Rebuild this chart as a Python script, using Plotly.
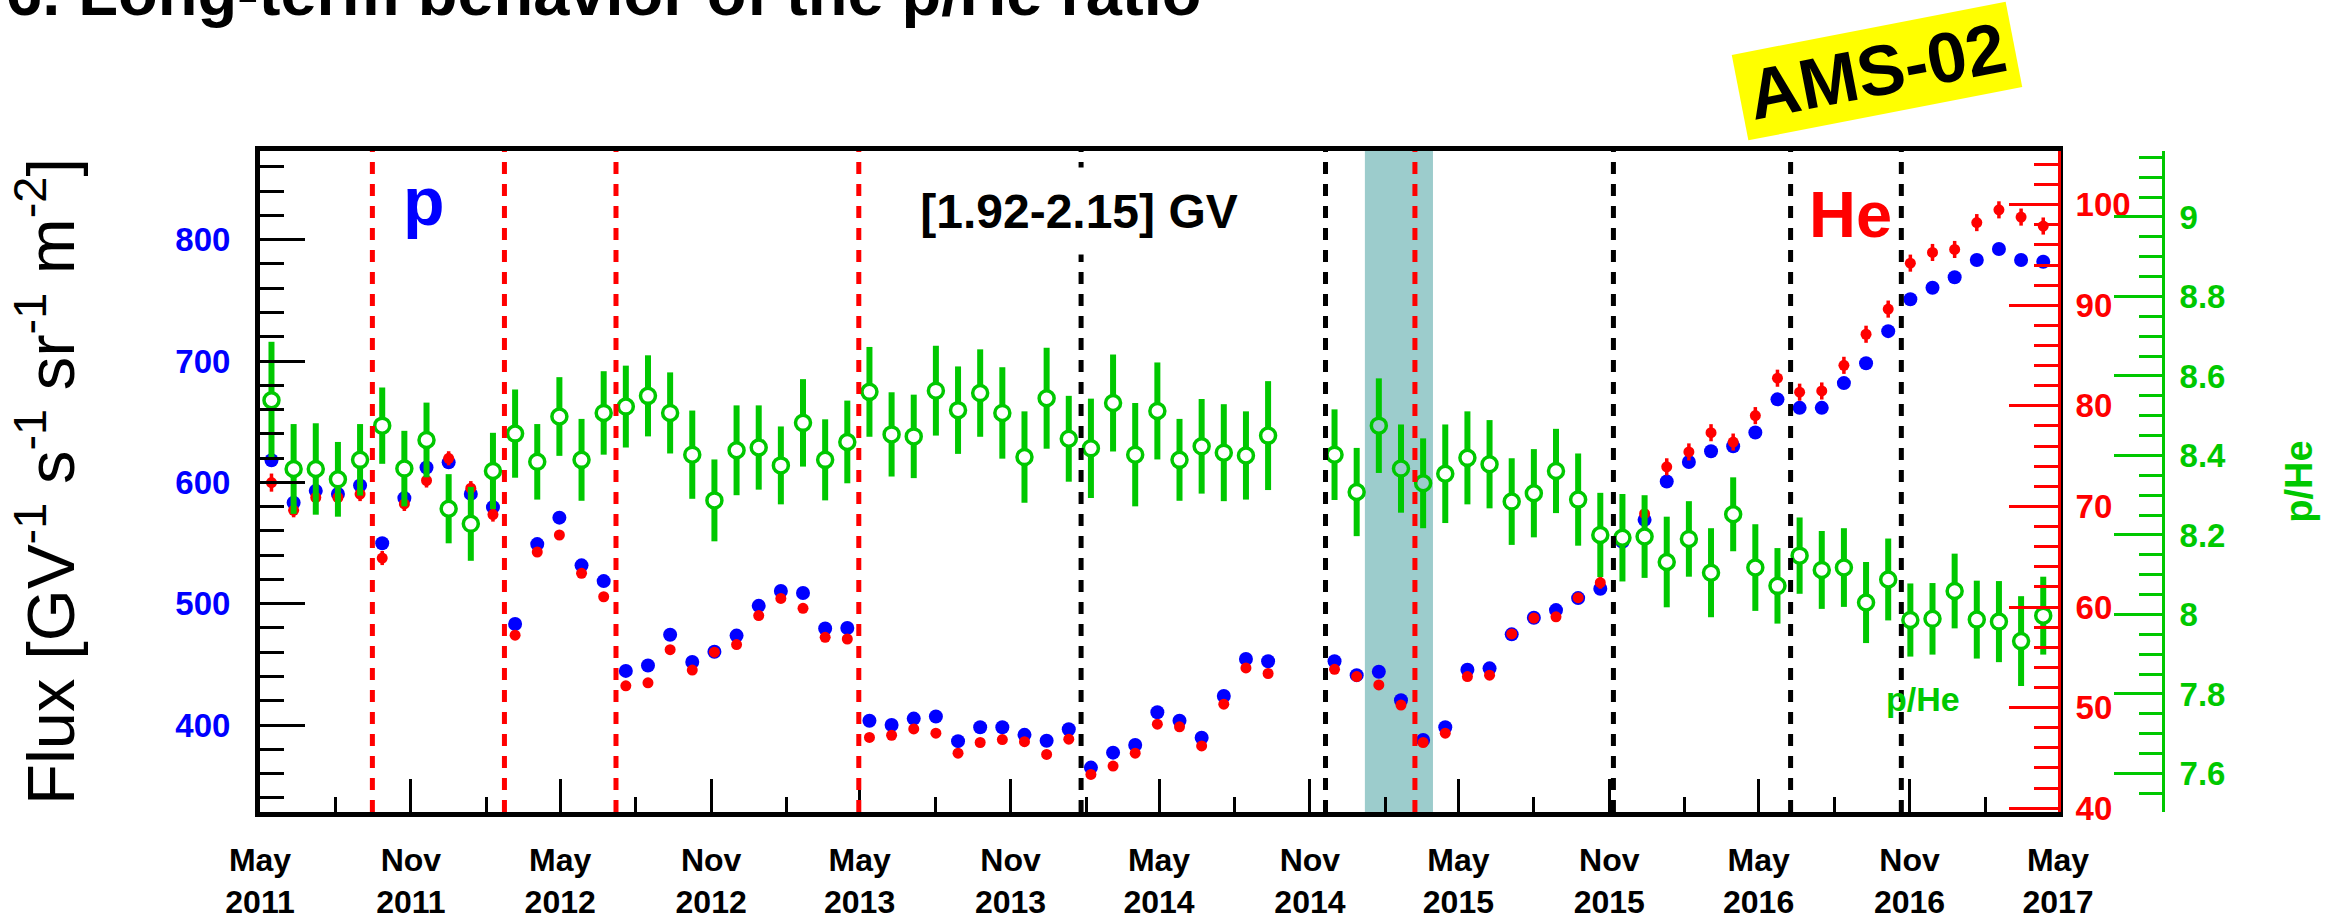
import datetime as dt
import plotly.graph_objects as go

# ---------------------------------------------------------------- data ----
# Bartels rotations (27-day periods); rotations 2472-2473 are not in the set
bartels = list(range(2426, 2472)) + list(range(2474, 2507))
BR0 = 2426
BR0_START = dt.date(2011, 5, 15)

# proton flux [GV^-1 s^-1 sr^-1 m^-2], 1.92-2.15 GV
p_flux = [618.2, 583.2, 593.0, 590.5, 597.5, 549.8, 587.0, 612.3, 616.5, 590.5,
          579.6, 483.2, 549.1, 570.9, 531.6, 518.6, 444.6, 449.1, 474.4, 451.9,
          460.4, 473.7, 498.2, 510.5, 508.8, 479.6, 480.0, 403.5, 400.0, 405.3,
          407.0, 386.7, 398.2, 398.2, 391.9, 387.0, 396.5, 364.9, 377.2, 383.5,
          410.5, 403.5, 389.5, 423.9, 454.4, 452.6, 452.6, 441.1, 443.9, 420.4,
          387.7, 398.2, 445.6, 446.7, 474.7, 488.4, 494.7, 504.6, 512.3, 550.9,
          569.1, 600.7, 616.8, 625.6, 629.8, 641.1, 668.4, 661.4, 661.4, 681.8,
          698.2, 724.6, 750.9, 760.4, 769.1, 783.2, 792.3, 783.2, 781.8]

# helium flux (right red scale)
he_flux = [72.37, 69.62, 70.89, 70.89, 71.23, 64.87, 70.25, 72.58, 74.79, 71.82,
           69.19, 57.20, 65.47, 67.16, 63.35, 61.02, 52.16, 52.46, 55.76, 53.73,
           55.51, 56.27, 59.15, 60.85, 59.87, 56.99, 56.82, 47.03, 47.25, 47.88,
           47.46, 45.47, 46.53, 46.82, 46.61, 45.34, 46.86, 43.35, 44.19, 45.47,
           48.35, 48.09, 46.19, 50.34, 53.94, 53.39, 53.81, 53.09, 52.25, 50.25,
           46.53, 47.46, 53.09, 53.22, 57.33, 58.90, 59.03, 60.93, 62.42, 66.86,
           69.28, 73.94, 75.42, 77.33, 76.40, 79.03, 82.75, 81.36, 81.48, 84.03,
           87.12, 89.62, 94.19, 95.25, 95.55, 98.22, 99.49, 98.77, 97.88]
he_err = [0.90, 0.70, 0.70, 0.70, 0.70, 0.70, 0.70, 0.70, 0.70, 0.70,
          0.70, 0.45, 0.45, 0.45, 0.45, 0.45, 0.45, 0.45, 0.45, 0.45,
          0.45, 0.45, 0.45, 0.45, 0.45, 0.45, 0.45, 0.45, 0.45, 0.45,
          0.45, 0.45, 0.45, 0.45, 0.45, 0.45, 0.45, 0.45, 0.45, 0.45,
          0.45, 0.45, 0.45, 0.45, 0.45, 0.45, 0.45, 0.45, 0.45, 0.45,
          0.45, 0.45, 0.45, 0.45, 0.45, 0.45, 0.45, 0.45, 0.60, 0.60,
          0.60, 0.85, 0.85, 0.85, 0.85, 0.85, 0.85, 0.85, 0.85, 0.85,
          0.85, 0.85, 0.85, 0.85, 0.85, 0.85, 0.85, 0.85, 0.85]

# p/He flux ratio (outer green scale)
ratio = [8.539, 8.366, 8.366, 8.340, 8.389, 8.475, 8.367, 8.439, 8.266, 8.228,
         8.361, 8.455, 8.384, 8.498, 8.389, 8.507, 8.523, 8.550, 8.507, 8.402,
         8.287, 8.413, 8.420, 8.375, 8.482, 8.389, 8.434, 8.560, 8.453, 8.448,
         8.563, 8.514, 8.557, 8.507, 8.396, 8.544, 8.442, 8.418, 8.532, 8.402,
         8.512, 8.389, 8.423, 8.407, 8.400, 8.450, 8.402, 8.308, 8.475, 8.367,
         8.330, 8.354, 8.394, 8.378, 8.284, 8.305, 8.361, 8.289, 8.200, 8.193,
         8.196, 8.132, 8.190, 8.105, 8.252, 8.118, 8.072, 8.148, 8.112, 8.118,
         8.030, 8.088, 7.986, 7.989, 8.059, 7.987, 7.982, 7.933, 7.997]
ratio_err = [0.147, 0.113, 0.115, 0.094, 0.090, 0.096, 0.095, 0.094, 0.087, 0.093,
             0.096, 0.111, 0.095, 0.099, 0.103, 0.105, 0.103, 0.102, 0.102, 0.111,
             0.103, 0.113, 0.106, 0.098, 0.110, 0.102, 0.104, 0.113, 0.106, 0.105,
             0.113, 0.110, 0.110, 0.115, 0.115, 0.127, 0.108, 0.125, 0.122, 0.130,
             0.122, 0.103, 0.119, 0.122, 0.111, 0.137, 0.114, 0.111, 0.119, 0.111,
             0.113, 0.124, 0.117, 0.111, 0.109, 0.111, 0.106, 0.116, 0.106, 0.110,
             0.104, 0.114, 0.095, 0.112, 0.093, 0.109, 0.095, 0.096, 0.098, 0.099,
             0.102, 0.103, 0.092, 0.090, 0.094, 0.098, 0.102, 0.113, 0.098]

# event markers
red_events = ["2011-09-15", "2012-02-23", "2012-07-08", "2013-04-30", "2015-03-09"]
black_events = ["2014-01-26", "2014-11-20", "2015-11-06", "2016-06-09", "2016-10-22"]
band_start, band_end = "2015-01-07", "2015-03-31"

# time axis ticks
major_ticks = ["2011-05-01", "2011-11-01", "2012-05-01", "2012-11-01", "2013-05-01",
               "2013-11-01", "2014-05-01", "2014-11-01", "2015-05-01", "2015-11-01",
               "2016-05-01", "2016-11-01", "2017-05-01"]
major_text = ["May<br>2011", "Nov<br>2011", "May<br>2012", "Nov<br>2012", "May<br>2013",
              "Nov<br>2013", "May<br>2014", "Nov<br>2014", "May<br>2015", "Nov<br>2015",
              "May<br>2016", "Nov<br>2016", "May<br>2017"]
minor_ticks = ["2011-08-01", "2012-02-01", "2012-08-01", "2013-02-01", "2013-08-01",
               "2014-02-01", "2014-08-01", "2015-02-01", "2015-08-01", "2016-02-01",
               "2016-08-01", "2017-02-01"]

p_ticks = [400, 500, 600, 700, 800]
p_minor = [340, 360, 380, 420, 440, 460, 480, 520, 540, 560, 580, 620, 640, 660,
           680, 720, 740, 760, 780, 820, 840, 860]
he_ticks = [40, 50, 60, 70, 80, 90, 100]
he_minor = [42, 44, 46, 48, 52, 54, 56, 58, 62, 64, 66, 68, 72, 74, 76, 78,
            82, 84, 86, 88, 92, 94, 96, 98, 102, 104]
ratio_ticks = [7.6, 7.8, 8.0, 8.2, 8.4, 8.6, 8.8, 9.0]
ratio_text = ["7.6", "7.8", "8", "8.2", "8.4", "8.6", "8.8", "9"]
ratio_minor = [7.55, 7.65, 7.7, 7.75, 7.85, 7.9, 7.95, 8.05, 8.1, 8.15, 8.25, 8.3,
               8.35, 8.45, 8.5, 8.55, 8.65, 8.7, 8.75, 8.85, 8.9, 8.95, 9.05, 9.1, 9.15]

# ------------------------------------------------------------- styling ----
FONT = "Liberation Sans, Arial, Helvetica, sans-serif"
BLUE = "#0000ff"
RED = "#ff0000"
GREEN = "#00c800"
BAND = "#9ccccc"

W, H = 2338, 919
ML, MR, MT, MB = 260, 175, 151, 107
PLOT_RIGHT = 2058
X_DOMAIN_END = (PLOT_RIGHT - ML) / (W - ML - MR)

dates = [BR0_START + dt.timedelta(days=27 * (b - BR0)) for b in bartels]
x = [d.isoformat() for d in dates]
b0 = dt.date.fromisoformat(band_start)
b1 = dt.date.fromisoformat(band_end)
ratio_fill = [BAND if b0 <= d <= b1 else "white" for d in dates]


def bold(size, color):
    return dict(family=FONT, size=size, color=color, weight="bold")


fig = go.Figure()

fig.add_trace(go.Scatter(
    x=x, y=p_flux, mode="markers", yaxis="y",
    marker=dict(color=BLUE, size=14, line=dict(width=0)),
    name="p", hoverinfo="x+y"))

fig.add_trace(go.Scatter(
    x=x, y=he_flux, mode="markers", yaxis="y2",
    marker=dict(color=RED, size=11, line=dict(width=0)),
    error_y=dict(type="data", array=he_err, color=RED, thickness=3.5, width=0),
    name="He", hoverinfo="x+y"))

fig.add_trace(go.Scatter(
    x=x, y=ratio, mode="markers", yaxis="y3",
    marker=dict(symbol="circle", size=15, color=ratio_fill,
                line=dict(color=GREEN, width=3.5)),
    error_y=dict(type="data", array=ratio_err, color=GREEN, thickness=6, width=0),
    name="p/He", hoverinfo="x+y"))

shapes = [dict(type="rect", xref="x", yref="paper", x0=band_start, x1=band_end,
               y0=0, y1=1, fillcolor=BAND, line=dict(width=0), layer="below")]
for d in red_events:
    shapes.append(dict(type="line", xref="x", yref="paper", x0=d, x1=d, y0=0, y1=1,
                       line=dict(color=RED, width=5, dash="12px,10px"), layer="above"))
for d in black_events:
    shapes.append(dict(type="line", xref="x", yref="paper", x0=d, x1=d, y0=0, y1=1,
                       line=dict(color="black", width=5, dash="12px,10px"), layer="above"))


def px_to_paper_x(px):
    return (px - ML) / (W - ML - MR)


def px_to_paper_y(py):
    return (H - MB - py) / (H - MT - MB)


annotations = [
    dict(text="6. Long-term behavior of the p/He ratio", xref="paper", yref="paper",
         x=px_to_paper_x(4), y=px_to_paper_y(-7.5), xanchor="left", yanchor="middle",
         showarrow=False, font=bold(65, "black")),
    dict(text="AMS-02", xref="paper", yref="paper",
         x=px_to_paper_x(1877), y=px_to_paper_y(71), xanchor="center", yanchor="middle",
         showarrow=False, font=bold(71, "black"), bgcolor="#ffff00",
         textangle=-11, width=278, height=86, borderpad=0),
    dict(text="p", xref="paper", yref="paper",
         x=px_to_paper_x(424), y=px_to_paper_y(201), xanchor="center", yanchor="middle",
         showarrow=False, font=bold(68, BLUE)),
    dict(text="He", xref="paper", yref="paper",
         x=px_to_paper_x(1850), y=px_to_paper_y(214), xanchor="center", yanchor="middle",
         showarrow=False, font=bold(65, RED)),
    dict(text="[1.92-2.15] GV", xref="paper", yref="paper",
         x=px_to_paper_x(1079), y=px_to_paper_y(210.5), xanchor="center", yanchor="middle",
         showarrow=False, font=bold(48, "black"), bgcolor="white",
         width=336, height=86, borderpad=0),
    dict(text="p/He", xref="paper", yref="paper",
         x=px_to_paper_x(1923), y=px_to_paper_y(699), xanchor="center", yanchor="middle",
         showarrow=False, font=bold(34, GREEN)),
]

fig.update_layout(
    width=W, height=H,
    margin=dict(l=ML, r=MR, t=MT, b=MB, pad=0, autoexpand=False),
    paper_bgcolor="white", plot_bgcolor="white",
    showlegend=False,
    font=dict(family=FONT),
    xaxis=dict(
        domain=[0, X_DOMAIN_END], type="date", automargin=False,
        range=["2011-05-01", "2017-05-01"],
        tickmode="array", tickvals=major_ticks, ticktext=major_text,
        ticks="inside", ticklen=33, tickwidth=3, tickcolor="black",
        tickfont=bold(32, "black"), ticklabelstandoff=16,
        minor=dict(tickvals=minor_ticks, ticks="inside", ticklen=15,
                   tickwidth=3, tickcolor="black"),
        showline=True, linecolor="black", linewidth=5, mirror=True,
        showgrid=False, zeroline=False),
    yaxis=dict(
        range=[328.3, 873.1], automargin=False,
        tickmode="array", tickvals=p_ticks,
        ticks="inside", ticklen=45, tickwidth=3, tickcolor="black",
        tickfont=bold(33, BLUE), ticklabelstandoff=18,
        minor=dict(tickvals=p_minor, ticks="inside", ticklen=24,
                   tickwidth=3, tickcolor="black"),
        showline=True, linecolor="black", linewidth=5, mirror=True,
        showgrid=False, zeroline=False,
        title=dict(text="Flux [GV<sup>-1</sup> s<sup>-1</sup> sr<sup>-1</sup> m<sup>-2</sup>]",
                   font=dict(family=FONT, size=67, color="black"), standoff=80)),
    yaxis2=dict(
        overlaying="y", anchor="x", side="right", automargin=False,
        range=[39.62, 105.34],
        tickmode="array", tickvals=he_ticks,
        ticks="inside", ticklen=49, tickwidth=3, tickcolor=RED,
        tickfont=bold(33, RED), ticklabelstandoff=8,
        minor=dict(tickvals=he_minor, ticks="inside", ticklen=24,
                   tickwidth=3, tickcolor=RED),
        showline=True, linecolor=RED, linewidth=3,
        showgrid=False, zeroline=False),
    yaxis3=dict(
        overlaying="y", anchor="free", position=1.0, side="right", automargin=False,
        range=[7.503, 9.166],
        tickmode="array", tickvals=ratio_ticks, ticktext=ratio_text,
        ticks="inside", ticklen=48, tickwidth=3, tickcolor=GREEN,
        tickfont=bold(33, GREEN), ticklabelstandoff=8,
        minor=dict(tickvals=ratio_minor, ticks="inside", ticklen=23,
                   tickwidth=3, tickcolor=GREEN),
        showline=True, linecolor=GREEN, linewidth=3,
        showgrid=False, zeroline=False,
        title=dict(text="p/He", font=bold(38, GREEN), standoff=60)),
    shapes=shapes,
    annotations=annotations,
)

fig.write_html("out.html")
